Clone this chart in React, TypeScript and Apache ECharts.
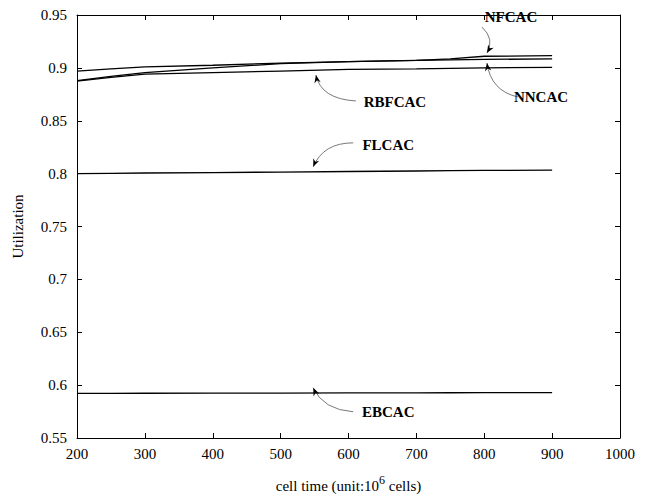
import React, { useEffect, useRef } from "react";
import * as echarts from "echarts";

const cellTime = [200, 250, 300, 400, 500, 600, 700, 750, 800, 900];
const nfcac = [0.897, 0.899, 0.901, 0.9025, 0.9045, 0.906, 0.907, 0.9085, 0.911, 0.9115];
const nncac = [0.888, 0.892, 0.8955, 0.9, 0.904, 0.906, 0.907, 0.9075, 0.908, 0.9085];
const rbfcac = [0.8875, 0.891, 0.894, 0.8955, 0.897, 0.8985, 0.899, 0.8995, 0.9, 0.9005];
const flcac = [0.8, 0.8003, 0.8006, 0.801, 0.8015, 0.802, 0.8025, 0.8028, 0.803, 0.8033];
const ebcac = [0.5922, 0.5922, 0.5923, 0.5924, 0.5925, 0.5926, 0.5927, 0.5928, 0.5929, 0.593];

const seriesNames = ["NFCAC", "NNCAC", "RBFCAC", "FLCAC", "EBCAC"];
const seriesValues = [nfcac, nncac, rbfcac, flcac, ebcac];

const xTicks = { min: 200, max: 1000, interval: 100 };
const yTicks = { min: 0.55, max: 0.95, interval: 0.05 };

// annotation arrow tips in data space
const annotTipX = [804, 804, 552, 548, 548];
const annotTipY = [0.914, 0.9046, 0.8933, 0.8064, 0.5975];

// pixel offsets relative to tip: label center, curve start, control point
const annotLayout = [
  { label: [24, -36], start: [-5, -26], ctrl: [8, -14] },
  { label: [54, 34], start: [31, 34], ctrl: [4, 28] },
  { label: [79, 27], start: [40, 26], ctrl: [5, 24] },
  { label: [75, -22], start: [40, -24], ctrl: [10, -24] },
  { label: [75, 24], start: [40, 24], ctrl: [10, 22] },
];

const FONT = "Liberation Serif";

export default function App() {
  const ref = useRef<HTMLDivElement>(null);
  useEffect(() => {
    if (!ref.current) return;
    const chart = echarts.init(ref.current, undefined, { renderer: "svg" });
    const axisCommon = {
      axisLine: { show: true, lineStyle: { color: "#000", width: 1 } },
      axisTick: { show: true, inside: true, length: 5, lineStyle: { color: "#000" } },
      splitLine: { show: false },
    };
    chart.setOption({
      animation: false,
      backgroundColor: "#fff",
      textStyle: { fontFamily: FONT },
      grid: { left: 77, right: 27, top: 15, bottom: 61, containLabel: false },
      xAxis: [
        {
          type: "value",
          ...xTicks,
          ...axisCommon,
          position: "bottom",
          axisLabel: {
            color: "#000",
            fontSize: 15,
            fontFamily: FONT,
            margin: 8,
            formatter: (v: number) => String(v),
          },
          name: "cell time (unit:10{sup|6} cells)",
          nameLocation: "middle",
          nameGap: 36,
          nameTextStyle: {
            color: "#000",
            fontSize: 15,
            fontFamily: FONT,
            rich: {
              sup: { fontSize: 12, fontFamily: FONT, color: "#000", verticalAlign: "bottom", padding: [0, 0, 12, 0] },
            },
          },
        },
        {
          type: "value",
          ...xTicks,
          ...axisCommon,
          position: "top",
          axisLabel: { show: false },
        },
      ],
      yAxis: [
        {
          type: "value",
          ...yTicks,
          ...axisCommon,
          position: "left",
          axisLabel: {
            color: "#000",
            fontSize: 15,
            fontFamily: FONT,
            margin: 10,
            formatter: (v: number) => String(Math.round(v * 100) / 100),
          },
          name: "Utilization",
          nameLocation: "middle",
          nameGap: 52,
          nameTextStyle: { color: "#000", fontSize: 15, fontFamily: FONT },
        },
        {
          type: "value",
          ...yTicks,
          ...axisCommon,
          position: "right",
          axisLabel: { show: false },
        },
      ],
      series: seriesNames.map((name, i) => ({
        name,
        type: "line",
        xAxisIndex: 0,
        yAxisIndex: 0,
        showSymbol: false,
        symbol: "none",
        data: cellTime.map((x, j) => [x, seriesValues[i][j]]),
        lineStyle: { color: "#000", width: 1.3 },
      })),
    });

    const graphics: any[] = [];
    seriesNames.forEach((name, i) => {
      const tip = chart.convertToPixel({ gridIndex: 0 }, [annotTipX[i], annotTipY[i]]) as number[];
      const L = annotLayout[i];
      const tx = tip[0];
      const ty = tip[1];
      const sx = tx + L.start[0];
      const sy = ty + L.start[1];
      const cx = tx + L.ctrl[0];
      const cy = ty + L.ctrl[1];
      graphics.push({
        type: "bezierCurve",
        shape: { x1: sx, y1: sy, x2: tx, y2: ty, cpx1: cx, cpy1: cy },
        style: { stroke: "#555", lineWidth: 0.8, fill: null },
        silent: true,
      });
      let dx = tx - cx;
      let dy = ty - cy;
      const len = Math.sqrt(dx * dx + dy * dy) || 1;
      dx /= len;
      dy /= len;
      const al = 8;
      const aw = 3.2;
      const bx = tx - dx * al;
      const by = ty - dy * al;
      graphics.push({
        type: "polygon",
        shape: {
          points: [
            [tx, ty],
            [bx - dy * aw, by + dx * aw],
            [bx + dx * 2.5, by + dy * 2.5],
            [bx + dy * aw, by - dx * aw],
          ],
        },
        style: { fill: "#000" },
        silent: true,
      });
      graphics.push({
        type: "text",
        x: tx + L.label[0],
        y: ty + L.label[1],
        style: {
          text: name,
          fontSize: 15,
          fontWeight: "bold",
          fontFamily: FONT,
          fill: "#000",
          align: "center",
          verticalAlign: "middle",
        },
        silent: true,
      });
    });
    chart.setOption({ graphic: graphics });

    return () => chart.dispose();
  }, []);
  return <div ref={ref} style={{ width: 647, height: 499, position: "absolute", left: 0, top: 0 }} />;
}
